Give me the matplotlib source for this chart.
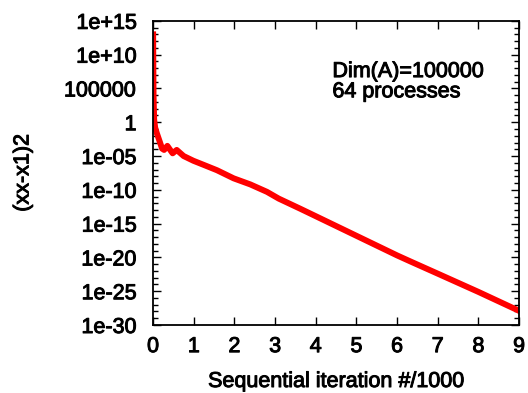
import numpy as np
import matplotlib.pyplot as plt
import matplotlib.patheffects as pe
from matplotlib.ticker import FixedLocator, FixedFormatter

plt.rcParams['font.family'] = ['Liberation Sans', 'DejaVu Sans']

# iteration (thousands) and log10 of (xx-x1)^2
iters = [0, 0.005, 0.01, 0.025, 0.05, 0.09, 0.17, 0.22, 0.27, 0.35, 0.42, 0.48,
         0.58, 0.75, 0.99, 1.24, 1.57, 1.98, 2.39, 2.8, 3.09, 3.62, 4.0, 5.0,
         6.0, 6.33, 7.0, 8.0, 9.0]
log_err = [13, 8, 4, 0.4, -0.8, -1.6, -3.0, -3.9, -4.1, -3.5, -4.1, -4.6,
           -4.1, -5.0, -5.7, -6.3, -7.1, -8.3, -9.2, -10.3, -11.3, -12.8, -13.9, -16.8,
           -19.7, -20.6, -22.4, -25.1, -27.9]

yticks = [1e15, 1e10, 1e5, 1, 1e-5, 1e-10, 1e-15, 1e-20, 1e-25, 1e-30]
ylabels = ['1e+15', '1e+10', '100000', '1', '1e-05', '1e-10', '1e-15', '1e-20', '1e-25', '1e-30']
xticks = [0, 1, 2, 3, 4, 5, 6, 7, 8, 9]

bold = [pe.withStroke(linewidth=0.7, foreground='black')]

fig = plt.figure(figsize=(5.28, 3.93), dpi=100)
ax = fig.add_axes([0.29, 0.173, 0.693, 0.774])

ax.plot(iters, 10.0 ** np.array(log_err), color='red', lw=4.3, solid_joinstyle='round')

ax.set_yscale('log')
ax.set_xlim(0, 9)
ax.set_ylim(1e-30, 1e15)
ax.yaxis.set_major_locator(FixedLocator(yticks))
ax.yaxis.set_major_formatter(FixedFormatter(ylabels))
ax.yaxis.set_minor_locator(FixedLocator([10.0 ** k for k in range(-30, 16)]))
ax.yaxis.set_minor_formatter(FixedFormatter([]))
ax.set_xticks(xticks)

for s in ax.spines.values():
    s.set_linewidth(1.3)
ax.tick_params(which='both', direction='in', top=True, right=True, width=1.0)
ax.tick_params(which='major', length=6, labelsize=15.5)
ax.tick_params(axis='y', which='major', pad=12)
ax.tick_params(axis='x', which='major', pad=8)
ax.tick_params(which='minor', length=3.5)
for lab in ax.get_xticklabels() + ax.get_yticklabels():
    lab.set_path_effects(bold)

ax.set_xlabel('Sequential iteration #/1000', fontsize=15.5, labelpad=10, path_effects=bold)
ax.set_ylabel('(xx-x1)2', fontsize=15.5, labelpad=22, path_effects=bold)

ax.text(0.49, 0.80, 'Dim(A)=100000\n64 processes', transform=ax.transAxes,
        fontsize=15.5, va='center', ha='left', linespacing=0.95, path_effects=bold)

fig.savefig('out.png', dpi=100)
